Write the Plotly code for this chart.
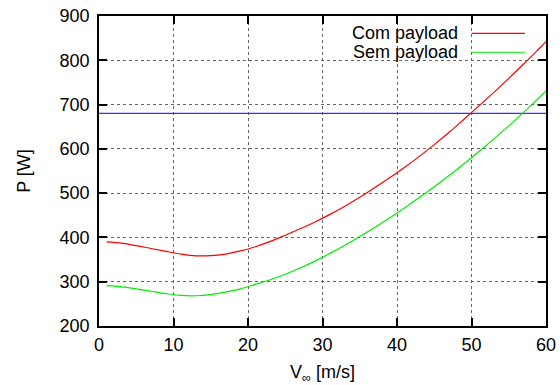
import plotly.graph_objects as go

# Airspeed samples [m/s]
v_samples = [1, 3, 5, 7, 9, 11, 13, 15, 17, 19, 21, 23, 25, 27, 29, 31, 33,
             35, 37, 39, 41, 43, 45, 47, 49, 51, 53, 55, 57, 59, 60]

# Required power [W], with payload
p_com = [390, 387, 381.5, 375, 368.5, 362.5, 358.5, 358.8, 362.5, 369.5, 379,
         391, 405, 419.5, 435, 452, 470.5, 490.5, 512, 534.5, 558, 583, 609.5,
         637.5, 667, 697, 727.5, 759, 791.5, 825, 842]

# Required power [W], without payload
p_sem = [291, 288.5, 284, 278.5, 273, 269, 268.3, 271, 276.3, 284, 294, 304.5,
         317, 331, 346.5, 364, 382.5, 402, 422.5, 444, 466.5, 490, 514.5, 540,
         566.5, 594, 622.5, 652, 682.5, 714.5, 731]

# Available power limit [W]
v_lim = [0, 60]
p_lim = [680, 680]

x_ticks = [0, 10, 20, 30, 40, 50, 60]
y_ticks = [200, 300, 400, 500, 600, 700, 800, 900]

labels = ["Com payload", "Sem payload"]
colors = ["#ff0000", "#00ee00"]

FONT = "Liberation Sans, Arial, Helvetica, sans-serif"
FS = 18

fig = go.Figure()
fig.add_trace(go.Scatter(x=v_lim, y=p_lim, mode="lines",
                         line=dict(color="#3030ff", width=1.2), showlegend=False))
fig.add_trace(go.Scatter(x=v_samples, y=p_com, mode="lines", line_shape="spline",
                         line=dict(color=colors[0], width=1.2), name=labels[0],
                         showlegend=False))
fig.add_trace(go.Scatter(x=v_samples, y=p_sem, mode="lines", line_shape="spline",
                         line=dict(color=colors[1], width=1.2), name=labels[1],
                         showlegend=False))

# Key drawn gnuplot-style: label on the left, line sample on the right
key_y = [0.944, 0.883]
for lab, col, ky in zip(labels, colors, key_y):
    fig.add_annotation(xref="paper", yref="paper", x=0.807, y=ky, text=lab,
                       showarrow=False, xanchor="right", yanchor="middle",
                       font=dict(family=FONT, size=FS, color="black"))
    fig.add_shape(type="line", xref="paper", yref="paper",
                  x0=0.834, x1=0.953, y0=ky, y1=ky,
                  line=dict(color=col, width=1.2))

axis_common = dict(
    showline=True, linecolor="black", linewidth=1.5, mirror="ticks",
    ticks="inside", ticklen=8, tickwidth=1.5, tickcolor="black",
    showgrid=True, gridcolor="#666666", griddash="dot", gridwidth=1,
    zeroline=False, tickfont=dict(family=FONT, size=FS, color="black"),
    automargin=False,
)

fig.update_xaxes(range=[0, 60], tickvals=x_ticks, ticklabelstandoff=2,
                 title=dict(text="V<sub>∞</sub> [m/s]", standoff=14,
                            font=dict(family=FONT, size=FS, color="black")),
                 **axis_common)
fig.update_yaxes(range=[200, 900], tickvals=y_ticks, ticklabelstandoff=4,
                 title=dict(text="P [W]", standoff=24,
                            font=dict(family=FONT, size=FS, color="black")),
                 **axis_common)

fig.update_layout(
    width=560, height=385,
    margin=dict(l=99, r=14, t=16, b=59),
    paper_bgcolor="white", plot_bgcolor="white",
    font=dict(family=FONT, size=FS, color="black"),
)

fig.write_html("out.html")
